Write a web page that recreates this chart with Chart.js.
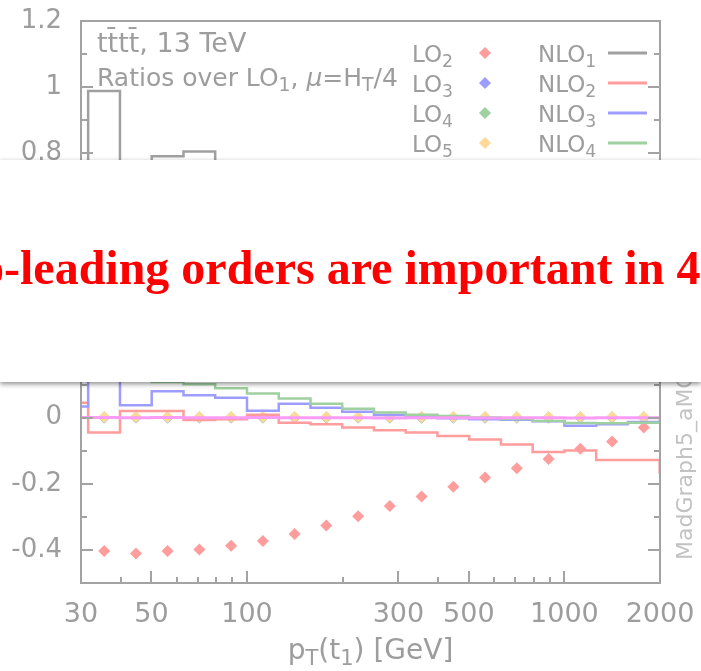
<!DOCTYPE html>
<html>
<head>
<meta charset="utf-8">
<script src="https://cdn.jsdelivr.net/npm/chart.js@4.4.1/dist/chart.umd.min.js"></script>
<style>
html,body{margin:0;padding:0;background:#fff;}
#wrap{position:relative;width:701px;height:671px;overflow:hidden;}
#banner{position:absolute;left:0;top:160px;width:701px;height:222px;background:#fff;box-shadow:0 2px 5px rgba(0,0,0,.45);overflow:hidden;}
#banner span{position:absolute;left:-20px;top:84px;font:bold 48px "Liberation Serif","Times New Roman",serif;line-height:48px;color:#ff0000;white-space:nowrap;}
</style>
</head>
<body>
<div id="wrap">
<canvas id="chart" width="701" height="671"></canvas>
<div id="banner"><span>o-leading orders are important in 4</span></div>
</div>
<script>
// bin edges of the histograms (log spaced, 0.1 decade)
const binEdges = [25.1, 31.6, 39.8, 50.1, 63.1, 79.4, 100, 125.9, 158.5, 199.5, 251.2, 316.2, 398.1, 501.2, 631.0, 794.3, 1000, 1258.9, 1584.9, 1995.3, 2511.9];
const binCentres = [35.5, 44.7, 56.2, 70.8, 89.1, 112.2, 141.3, 177.8, 223.9, 281.8, 354.8, 446.7, 562.3, 707.9, 891.3, 1122.0, 1412.5, 1778.3];

// NLO ratios (one value per bin)
const nlo1 = [0.55, 0.988, 0.70, 0.791, 0.805, 0.76, 0.72, 0.68, 0.64, 0.60, 0.56, 0.52, 0.48, 0.45, 0.42, 0.39, 0.36, 0.33, 0.30, 0.28];
const nlo2 = [0.045, -0.045, 0.020, 0.020, -0.007, -0.005, 0.009, -0.015, -0.020, -0.030, -0.038, -0.045, -0.055, -0.066, -0.081, -0.104, -0.099, -0.128, -0.128, -0.166];
const nlo3 = [0.034, 0.30, 0.038, 0.080, 0.068, 0.060, 0.021, 0.042, 0.030, 0.018, 0.008, 0.002, -0.002, -0.005, -0.006, -0.011, -0.024, -0.020, -0.013, -0.010];
const nlo4 = [0.40, 0.35, 0.16, 0.108, 0.101, 0.089, 0.073, 0.058, 0.042, 0.027, 0.016, 0.009, 0.005, 0.001, -0.004, -0.010, -0.016, -0.017, -0.015, -0.012];
const nlo5 = [0.001, 0.001, 0.000, 0.001, 0.000, 0.000, 0.001, 0.000, 0.000, 0.000, -0.001, 0.000, 0.000, -0.001, 0.000, 0.000, -0.001, 0.000, 0.000, 0.000];

// LO ratios (points at bin centres)
const lo2 = [-0.403, -0.411, -0.403, -0.399, -0.387, -0.373, -0.352, -0.326, -0.298, -0.267, -0.238, -0.209, -0.181, -0.153, -0.125, -0.094, -0.072, -0.030];
const lo3 = [0.001, 0.001, 0.001, 0.001, 0.001, 0.001, 0.001, 0.001, 0.001, 0.001, 0.001, 0.001, 0.001, 0.001, 0.001, 0.001, 0.001, 0.001];
const lo4 = [0.001, 0.001, 0.001, 0.001, 0.001, 0.001, 0.001, 0.001, 0.001, 0.001, 0.001, 0.001, 0.001, 0.001, 0.001, 0.001, 0.001, 0.001];
const lo5 = [0.002, 0.002, 0.002, 0.002, 0.002, 0.002, 0.002, 0.002, 0.002, 0.002, 0.002, 0.002, 0.002, 0.002, 0.002, 0.002, 0.002, 0.002];

const xTickLabels = [30, 50, 100, 300, 500, 1000, 2000];
const xMinorTicks = [40, 60, 70, 80, 90, 200, 400, 600, 700, 800, 900];
const yTickLabels = [-0.4, -0.2, 0, 0.2, 0.4, 0.6, 0.8, 1, 1.2];
const yMinorTicks = [-0.3, -0.1, 0.1, 0.3, 0.5, 0.7, 0.9, 1.1];

const loLabels = ['LO2', 'LO3', 'LO4', 'LO5'];
const nloLabels = ['NLO1', 'NLO2', 'NLO3', 'NLO4', 'NLO5'];
const loColours = ['#ff9c9c', '#9d9dff', '#9fd09f', '#ffd998'];
const nloColours = ['#a0a0a0', '#ff9c9c', '#9d9dff', '#9fd09f', '#fa9cf5'];

const frameGrey = '#a3a3a3';
const textGrey = '#9d9d9d';
const FONT = '"DejaVu Sans"';

const steps = vals => binEdges.map((e, i) => ({x: e, y: vals[Math.min(i, vals.length - 1)]}));
const points = vals => binCentres.map((c, i) => ({x: c, y: vals[i]}));

const histo = (label, vals, colour, order, width) => ({
  label, data: steps(vals), borderColor: colour, borderWidth: width,
  stepped: true, pointRadius: 0, fill: false, order, clip: 0
});
const diamonds = (label, vals, colour, order) => ({
  label, data: points(vals), showLine: false, pointStyle: 'rectRot',
  pointRadius: 6, pointBackgroundColor: colour, pointBorderWidth: 0,
  borderColor: colour, order
});

// draws text with subscripts: parts = [[text, kind]] kind 0 normal, 1 sub, 2 italic
function rich(ctx, x, y, parts, size, dry) {
  let cx = x;
  parts.forEach(([t, k]) => {
    const s = k === 1 ? size * 0.75 : size;
    ctx.font = (k === 2 ? 'italic ' : '') + s + 'px ' + FONT;
    if (!dry) ctx.fillText(t, cx, k === 1 ? y + size * 0.2 : y);
    cx += ctx.measureText(t).width;
  });
  return cx - x;
}

const gnuplotDeco = {
  id: 'gnuplotDeco',
  afterDatasetsDraw(chart) {
    const {ctx, chartArea: a, scales: {x, y}} = chart;
    ctx.save();
    ctx.strokeStyle = frameGrey;
    ctx.lineWidth = 2;
    ctx.beginPath();
    yTickLabels.concat(yMinorTicks).forEach(v => {
      const py = Math.round(y.getPixelForValue(v));
      const len = yTickLabels.includes(v) ? 12 : 6;
      ctx.moveTo(a.left, py); ctx.lineTo(a.left + len, py);
      ctx.moveTo(a.right, py); ctx.lineTo(a.right - len, py);
    });
    xTickLabels.concat(xMinorTicks).forEach(v => {
      const px = Math.round(x.getPixelForValue(v));
      const len = xTickLabels.includes(v) ? 12 : 6;
      ctx.moveTo(px, a.bottom); ctx.lineTo(px, a.bottom - len);
    });
    ctx.stroke();
    ctx.strokeRect(a.left, a.top, a.right - a.left, a.bottom - a.top);

    ctx.fillStyle = textGrey;
    ctx.textBaseline = 'alphabetic';
    ctx.textAlign = 'left';
    rich(ctx, 97, 52, [['tt\u0304tt\u0304, 13 TeV', 0]], 27);
    rich(ctx, 97, 86, [['Ratios over LO', 0], ['1', 1], [', ', 0], ['\u03bc', 2], ['=H', 0], ['T', 1], ['/4', 0]], 25);

    // key
    const rows = [53, 83, 113, 143, 173];
    loLabels.forEach((l, i) => {
      ctx.fillStyle = textGrey;
      rich(ctx, 412, rows[i] + 9, [[l.slice(0, -1), 0], [l.slice(-1), 1]], 23);
      ctx.fillStyle = loColours[i];
      const cx = 485, cy = rows[i], r = 6;
      ctx.beginPath();
      ctx.moveTo(cx, cy - r); ctx.lineTo(cx + r, cy); ctx.lineTo(cx, cy + r); ctx.lineTo(cx - r, cy);
      ctx.closePath(); ctx.fill();
    });
    nloLabels.forEach((l, i) => {
      ctx.fillStyle = textGrey;
      rich(ctx, 538, rows[i] + 9, [[l.slice(0, -1), 0], [l.slice(-1), 1]], 23);
      ctx.strokeStyle = nloColours[i];
      ctx.lineWidth = 3;
      ctx.beginPath(); ctx.moveTo(608, rows[i]); ctx.lineTo(647, rows[i]); ctx.stroke();
    });

    // x title
    ctx.fillStyle = textGrey;
    const title = [['p', 0], ['T', 1], ['(t', 0], ['1', 1], [') [GeV]', 0]];
    const w = rich(ctx, 0, 0, title, 28, true);
    rich(ctx, (a.left + a.right) / 2 - w / 2, 659, title, 28);

    // generator tag
    ctx.fillStyle = '#c2c2c2';
    ctx.font = '22px ' + FONT;
    ctx.translate(692, 560);
    ctx.rotate(-Math.PI / 2);
    ctx.fillText('MadGraph5_aMC@NLO', 0, 0);
    ctx.restore();
  }
};

const noPad = s => { s.paddingTop = 0; s.paddingBottom = 0; s.paddingLeft = 0; s.paddingRight = 0; };

new Chart('chart', {
  type: 'line',
  data: {
    datasets: [
      histo('NLO5', nlo5, nloColours[4], 0, 3),
      histo('NLO4', nlo4, nloColours[3], 1, 2.5),
      histo('NLO3', nlo3, nloColours[2], 2, 2.5),
      histo('NLO2', nlo2, nloColours[1], 3, 2.5),
      histo('NLO1', nlo1, nloColours[0], 4, 2.5),
      diamonds('LO5', lo5, loColours[3], 5),
      diamonds('LO4', lo4, loColours[2], 6),
      diamonds('LO3', lo3, loColours[1], 7),
      diamonds('LO2', lo2, loColours[0], 8)
    ]
  },
  options: {
    responsive: false,
    animation: false,
    events: [],
    layout: {autoPadding: false, padding: {top: 21, right: 41, left: 0, bottom: 0}},
    plugins: {legend: {display: false}, tooltip: {enabled: false}},
    scales: {
      x: {
        type: 'logarithmic', min: 30, max: 2000,
        grid: {display: false, drawTicks: false}, border: {display: false},
        afterBuildTicks: s => { s.ticks = xTickLabels.map(v => ({value: v})); },
        afterFit: s => { s.height = 88; noPad(s); },
        ticks: {autoSkip: false, maxRotation: 0, padding: 16, color: textGrey,
          font: {family: 'DejaVu Sans', size: 27}, callback: v => String(v)}
      },
      y: {
        min: -0.5, max: 1.2,
        grid: {display: false, drawTicks: false}, border: {display: false},
        afterBuildTicks: s => { s.ticks = yTickLabels.map(v => ({value: v})); },
        afterFit: s => { s.width = 81; noPad(s); },
        ticks: {padding: 19, color: textGrey,
          font: {family: 'DejaVu Sans', size: 26}, callback: v => String(v)}
      }
    }
  },
  plugins: [gnuplotDeco]
});
</script>
</body>
</html>
